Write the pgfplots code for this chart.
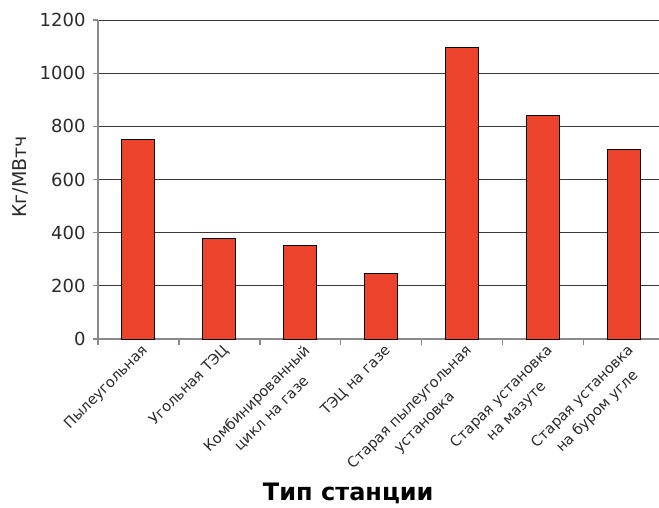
\documentclass[border=0pt]{standalone}
\usepackage{pgfplots}
\pgfplotsset{compat=1.18}
\usepackage{fontspec}
\setmainfont{DejaVu Sans}
\definecolor{barred}{HTML}{EB432C}
\definecolor{gridc}{HTML}{3A3A3A}
\definecolor{axc}{HTML}{8A8A8A}
\definecolor{txt}{HTML}{2A2A2A}
\begin{document}
\begin{tikzpicture}
\useasboundingbox (-98pt,-168pt) rectangle (561pt,339pt);
\begin{axis}[
 name=ax,
 at={(0,0)}, anchor=south west,
 scale only axis,
 width=561pt, height=319pt,
 xmin=-0.5, xmax=6.43,
 ymin=0, ymax=1200,
 ytick={0,200,...,1200},
 axis x line*=bottom, axis y line*=left,
 axis line style={axc, line width=1.2pt},
 ymajorgrids, grid style={gridc, line width=1pt},
 xtick={0,...,6},
 xticklabels={Пылеугольная, Угольная ТЭЦ, {Комбинированный\\цикл на газе}, ТЭЦ на газе, {Старая пылеугольная\\установка}, {Старая установка\\на мазуте}, {Старая установка\\на буром угле}},
 major x tick style={draw=none},
 minor xtick={-0.5,0.5,...,5.5},
 minor x tick style={axc, line width=1.2pt},
 minor tick length=6pt,
 major tick length=5pt,
 y tick style={axc, line width=1.2pt},
 tick align=outside,
 /pgf/number format/assume math mode=true,
 /pgf/number format/1000 sep={},
 yticklabel style={font=\fontsize{18}{20}\selectfont, text=txt, xshift=-4pt},
 xticklabel style={rotate=45, anchor=north east, align=center, font=\fontsize{14.5}{21}\selectfont, text=txt, inner sep=1pt, xshift=3pt},
 xlabel={Тип станции},
 xlabel style={at={(rel axis cs:0.446,0)}, anchor=center, yshift=-154pt, font=\fontsize{24}{26}\selectfont\bfseries, text=black},
 ylabel={Кг/МВтч},
 ylabel style={at={(rel axis cs:0,0.508)}, anchor=center, yshift=78pt, font=\fontsize{19}{21}\selectfont, text=txt},
 ybar, bar width=33pt,
]
\addplot[fill=barred, draw=black, line width=1pt] coordinates {(0,750) (1,378) (2,350) (3,246) (4,1095) (5,839) (6,711)};
\end{axis}
\end{tikzpicture}
\end{document}
